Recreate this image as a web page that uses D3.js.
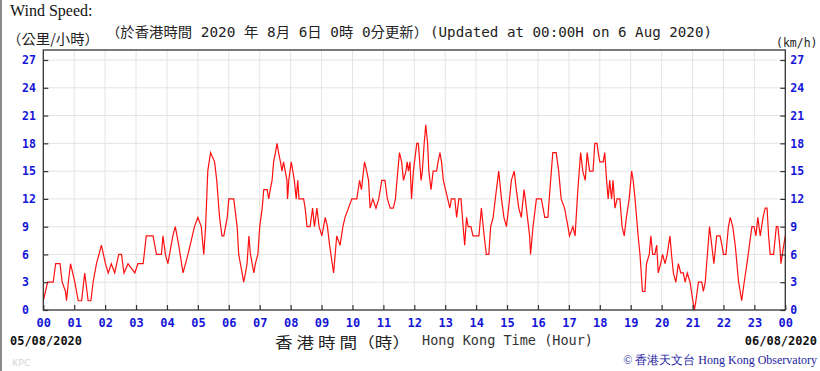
<!DOCTYPE html>
<html><head><meta charset="utf-8">
<script src="https://cdn.jsdelivr.net/npm/d3@7"></script>
<style>body{margin:0;background:#fff}svg{display:block}</style>
</head><body>
<svg id="c" width="820" height="371"></svg>
<script>
// hours since 00:00 on 05/08/2020
const hours = [0.00,0.14,0.32,0.40,0.54,0.61,0.72,0.75,0.81,0.88,1.02,1.13,1.24,1.34,1.45,1.54,1.61,1.72,1.88,2.01,2.10,2.20,2.31,2.44,2.53,2.61,2.74,2.96,3.06,3.23,3.33,3.55,3.66,3.82,3.87,3.95,4.03,4.19,4.27,4.38,4.52,4.68,4.89,5.00,5.11,5.19,5.25,5.32,5.41,5.54,5.61,5.70,5.78,5.84,5.95,6.00,6.16,6.27,6.32,6.43,6.48,6.54,6.59,6.65,6.70,6.81,6.86,6.94,7.00,7.08,7.13,7.24,7.29,7.34,7.40,7.45,7.51,7.56,7.61,7.67,7.72,7.77,7.88,7.90,7.94,8.02,8.12,8.18,8.23,8.27,8.42,8.47,8.53,8.63,8.71,8.77,8.85,8.92,9.01,9.12,9.19,9.26,9.39,9.44,9.49,9.60,9.69,9.76,9.87,9.98,10.14,10.23,10.29,10.39,10.46,10.52,10.57,10.66,10.76,10.85,10.95,11.05,11.13,11.22,11.32,11.39,11.44,11.52,11.59,11.65,11.73,11.77,11.81,11.86,11.91,11.97,12.08,12.13,12.22,12.26,12.32,12.37,12.43,12.47,12.54,12.61,12.72,12.77,12.83,12.88,12.94,13.01,13.08,13.15,13.20,13.31,13.37,13.44,13.51,13.58,13.63,13.69,13.74,13.83,13.90,14.09,14.17,14.26,14.33,14.41,14.47,14.55,14.62,14.73,14.82,14.90,14.98,15.05,15.14,15.23,15.30,15.38,15.46,15.55,15.59,15.66,15.73,15.76,15.84,15.95,16.11,16.22,16.32,16.41,16.48,16.59,16.67,16.75,16.86,16.97,17.02,17.13,17.20,17.29,17.38,17.45,17.53,17.59,17.67,17.78,17.84,17.91,17.95,18.00,18.11,18.16,18.22,18.27,18.32,18.38,18.43,18.49,18.56,18.65,18.72,18.79,18.86,18.95,19.03,19.08,19.14,19.24,19.30,19.38,19.46,19.51,19.60,19.65,19.71,19.78,19.84,19.89,19.97,20.03,20.11,20.18,20.27,20.32,20.38,20.46,20.54,20.62,20.70,20.76,20.83,20.92,21.01,21.06,21.11,21.19,21.30,21.35,21.41,21.48,21.55,21.62,21.69,21.78,21.89,21.95,22.00,22.08,22.16,22.22,22.30,22.38,22.49,22.59,22.67,22.76,22.84,22.92,22.99,23.05,23.11,23.19,23.28,23.35,23.41,23.46,23.51,23.62,23.71,23.76,23.82,23.86,23.95,24.00];
// wind speed (km/h)
const speeds = [1,3,3,5,5,3,2,1,3,5,3,1,1,4,1,1,3,5,7,5,4,5,4,6,6,4,5,4,5,5,8,8,6,6,8,6,5,8,9,7,4,6,9,10,9,6,9,15,17,16,14,10,8,8,10,12,12,9,6,4,3,4,5,8,6,4,5,6,9,11,13,13,12,13,14,16,17,18,17,16,15,16,14,12,14,16,14,12,14,12,12,11,9,9,11,9,11,9,8,10,9,7,4,6,8,7,9,10,11,12,12,14,13,16,15,14,11,12,11,12,14,14,12,11,11,12,14,17,16,14,15,16,15,16,12,15,18,18,14,15,18,20,18,15,13,15,15,16,17,16,14,13,12,11,12,12,10,12,12,9,7,10,9,9,8,8,11,8,6,6,9,10,12,15,12,10,9,11,14,15,13,11,10,13,12,10,8,6,9,12,12,10,10,14,17,17,15,12,11,9,8,9,8,13,17,15,14,17,15,15,18,18,17,16,16,17,14,12,14,12,14,11,12,12,9,8,10,12,15,14,12,8,6,2,2,5,6,8,6,6,7,4,5,6,5,6,8,6,4,3,5,4,4,3,4,3,1,0,1,3,3,2,3,6,9,7,5,8,8,7,6,6,9,10,9,7,3,1,3,5,7,9,9,8,10,8,10,11,11,8,6,6,9,9,7,5,7,8];
const hourTicks = d3.range(0, 25);
const hourLabels = ["00","01","02","03","04","05","06","07","08","09","10","11","12","13","14","15","16","17","18","19","20","21","22","23","00"];
const speedTicks = [0,3,6,9,12,15,18,21,24,27];
const startDate = "05/08/2020", endDate = "06/08/2020";

const svg = d3.select("#c");
const L = 43.3, R = 785.3, B = 310, T = 50;
const x = d3.scaleLinear().domain([0, 24]).range([L, R]);
const y = d3.scaleLinear().domain([0, 27]).range([B, 60]);
const blue = "#1515d8";
const mono = "'DejaVu Sans Mono', monospace";
const cjk = "'Noto Sans CJK TC', 'Noto Sans CJK SC', sans-serif";

// left border of picture
svg.append("rect").attr("x",0).attr("y",0).attr("width",2).attr("height",371).attr("fill","#8a8a8a");

// grid
const g = svg.append("g");
g.selectAll("line.v").data(hourTicks.slice(1, 24)).join("line")
  .attr("x1", d => x(d)).attr("x2", d => x(d)).attr("y1", T).attr("y2", B)
  .attr("stroke", "#e4e4e4").attr("stroke-width", 1);
g.selectAll("line.h").data(speedTicks.slice(1)).join("line")
  .attr("x1", L).attr("x2", R).attr("y1", d => y(d)).attr("y2", d => y(d))
  .attr("stroke", "#e4e4e4").attr("stroke-width", 1);

// data line
const line = d3.line().x((d, i) => x(hours[i])).y(d => y(d));
svg.append("path").datum(speeds).attr("d", line)
  .attr("fill", "none").attr("stroke", "#ff1010").attr("stroke-width", 1.2).attr("stroke-linejoin","miter");

// frame
svg.append("rect").attr("x", L).attr("y", T).attr("width", R - L).attr("height", B - T)
  .attr("fill", "none").attr("stroke", "#333").attr("stroke-width", 1.3);

// axes
const ax = (sel) => { sel.select(".domain").remove(); sel.selectAll(".tick line").attr("stroke", "#333").attr("stroke-width", 1.2); };
const left = svg.append("g").attr("transform", `translate(${L},0)`)
  .call(d3.axisLeft(y).tickValues(speedTicks).tickSize(-5).tickPadding(0));
ax(left);
left.selectAll(".tick text").attr("x", 22 - L).attr("text-anchor", "start")
  .attr("fill", blue).attr("font-family", mono).attr("font-weight", "bold").attr("font-size", 11.5);

const right = svg.append("g").attr("transform", `translate(${R},0)`)
  .call(d3.axisRight(y).tickValues(speedTicks).tickSize(-5).tickPadding(0));
ax(right);
right.selectAll(".tick text").attr("x", 5).attr("text-anchor", "start")
  .attr("fill", blue).attr("font-family", mono).attr("font-weight", "bold").attr("font-size", 11.5);

const bottom = svg.append("g").attr("transform", `translate(0,${B})`)
  .call(d3.axisBottom(x).tickValues(hourTicks).tickFormat((d, i) => hourLabels[i]).tickSize(-5).tickPadding(0));
ax(bottom);
bottom.selectAll(".tick text").attr("y", 17).attr("dy", 0)
  .attr("fill", blue).attr("font-family", mono).attr("font-weight", "bold").attr("font-size", 12);

// texts
svg.append("text").attr("x", 10).attr("y", 16).attr("font-family", "'Liberation Serif', serif")
  .attr("font-size", 16).attr("fill", "#111").text("Wind Speed:");
svg.append("text").attr("x", 7).attr("y", 44).attr("font-family", cjk).attr("font-size", 14)
  .attr("fill", "#222").attr("textLength", 92).attr("lengthAdjust", "spacingAndGlyphs").text("（公里/小時）");
svg.append("text").attr("x", 106).attr("y", 37).attr("font-family", mono + "," + cjk).attr("font-size", 13.5)
  .attr("fill", "#222").attr("textLength", 322).attr("lengthAdjust", "spacingAndGlyphs").text("（於香港時間 2020 年 8月 6日 0時 0分更新）");
svg.append("text").attr("x", 430).attr("y", 37).attr("font-family", mono).attr("font-size", 14)
  .attr("fill", "#222").attr("textLength", 282).attr("lengthAdjust", "spacingAndGlyphs").text("(Updated at 00:00H on 6 Aug 2020)");
svg.append("text").attr("x", 776).attr("y", 47).attr("font-family", mono).attr("font-size", 11.5)
  .attr("fill", "#222").text("(km/h)");

svg.append("text").attr("x", 10).attr("y", 345).attr("font-family", mono).attr("font-weight", "bold")
  .attr("font-size", 12).attr("fill", "#111").attr("textLength", 72).attr("lengthAdjust", "spacingAndGlyphs").text(startDate);
svg.append("text").attr("x", 817).attr("y", 345).attr("text-anchor", "end").attr("font-family", mono).attr("font-weight", "bold")
  .attr("font-size", 12).attr("fill", "#111").text(endDate);

svg.append("text").attr("x", 275).attr("y", 348).attr("font-family", cjk).attr("font-size", 15)
  .attr("fill", "#222").attr("textLength", 135).attr("lengthAdjust", "spacingAndGlyphs").text("香 港 時 間（時）");
svg.append("text").attr("x", 422).attr("y", 345).attr("font-family", mono).attr("font-size", 13.5)
  .attr("fill", "#333").attr("textLength", 171).attr("lengthAdjust", "spacingAndGlyphs").text("Hong Kong Time (Hour)");

svg.append("text").attr("x", 817).attr("y", 364).attr("text-anchor", "end").attr("font-family", "'Liberation Serif', serif").attr("font-size", 12)
  .attr("fill", "#1c1ca0").text("© 香港天文台 Hong Kong Observatory");
svg.append("text").attr("x", 12).attr("y", 366).attr("font-family", "'DejaVu Sans', sans-serif").attr("font-size", 9.5)
  .attr("fill", "#d8d8d8").text("KPC");
</script>
</body></html>
